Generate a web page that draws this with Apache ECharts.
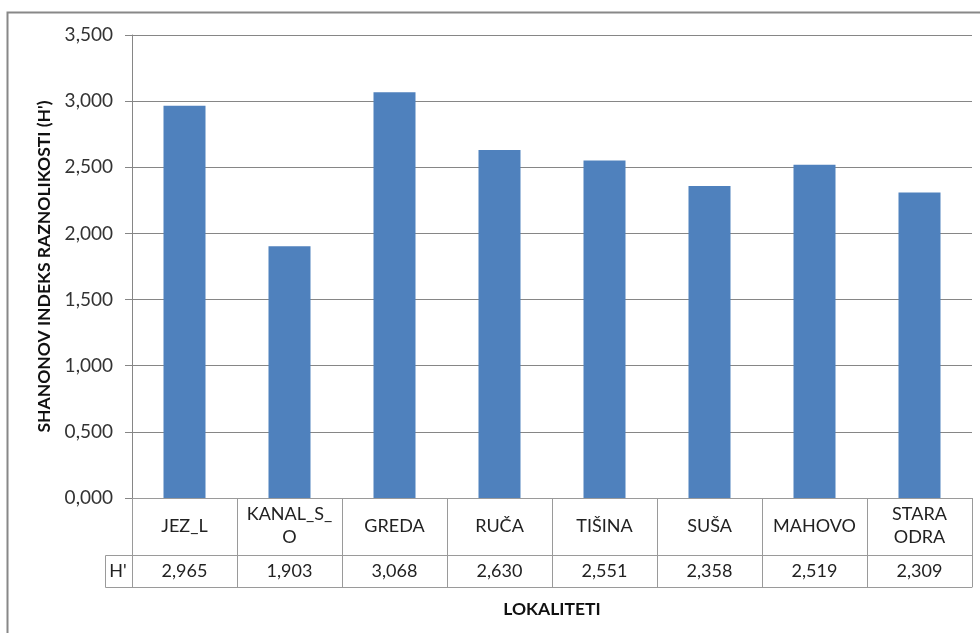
<!DOCTYPE html>
<html>
<head>
<meta charset="utf-8">
<script src="https://cdn.jsdelivr.net/npm/echarts@6/dist/echarts.min.js"></script>
<style>
  html, body { margin: 0; padding: 0; background: #fff; }
  #main { width: 980px; height: 633px; }
</style>
</head>
<body>
<div id="main"></div>
<script>
// lokaliteti i Shannonov indeks
const categories = ['JEZ_L', 'KANAL_S_\nO', 'GREDA', 'RUČA', 'TIŠINA', 'SUŠA', 'MAHOVO', 'STARA\nODRA']
const values = [2.965, 1.903, 3.068, 2.630, 2.551, 2.358, 2.519, 2.309]
const rowName = "H'"

const fmt = (v) => v.toFixed(3).replace('.', ',')
const tableRow = values.map(fmt)

const font = 'Lato, "Liberation Sans", sans-serif'
const lineColor = '#9a9a9a'

const myChart = echarts.init(document.getElementById('main'))

myChart.setOption({
  animation: false,
  textStyle: { fontFamily: font },
  grid: {
    left: 132,
    right: 8,
    top: 35,
    bottom: 135
  },
  yAxis: {
    type: 'value',
    min: 0,
    max: 3.5,
    interval: 0.5,
    name: "SHANONOV INDEKS RAZNOLIKOSTI (H')",
    nameLocation: 'middle',
    nameRotate: 90,
    nameGap: 78,
    nameTextStyle: { fontFamily: font, fontSize: 17.5, fontWeight: 'bold', color: '#111' },
    axisLine: { show: true, lineStyle: { color: '#868686' } },
    axisTick: { show: true, length: 7, lineStyle: { color: '#868686' } },
    axisLabel: { formatter: fmt, fontSize: 19, color: '#333', margin: 19 },
    splitLine: { lineStyle: { color: '#868686' } }
  },
  xAxis: [
    {
      type: 'category',
      data: categories,
      position: 'bottom',
      axisLine: { lineStyle: { color: lineColor } },
      axisTick: { show: true, length: 89, lineStyle: { color: lineColor } },
      axisLabel: { fontSize: 18, color: '#222', margin: 28, verticalAlign: 'middle', lineHeight: 23, interval: 0 }
    },
    {
      type: 'category',
      data: tableRow,
      position: 'bottom',
      offset: 57,
      axisLine: { lineStyle: { color: lineColor } },
      axisTick: { show: false },
      axisLabel: { fontSize: 18, color: '#222', margin: 16, verticalAlign: 'middle', interval: 0 }
    },
    {
      type: 'category',
      data: categories,
      position: 'bottom',
      offset: 89,
      axisLine: { lineStyle: { color: lineColor } },
      axisTick: { show: false },
      axisLabel: { show: false },
      name: 'LOKALITETI',
      nameLocation: 'middle',
      nameGap: 13,
      nameTextStyle: { fontFamily: font, fontSize: 17.5, fontWeight: 'bold', color: '#111' }
    }
  ],
  graphic: [
    // okvir grafikona
    {
      type: 'rect',
      shape: { x: 7.5, y: 12.5, width: 1000, height: 700 },
      style: { fill: 'none', stroke: '#888', lineWidth: 2 },
      silent: true
    },
    // celija H'
    {
      type: 'rect',
      shape: { x: 105.5, y: 555.5, width: 27, height: 32 },
      style: { fill: 'none', stroke: lineColor, lineWidth: 1 },
      silent: true
    },
    {
      type: 'text',
      x: 118,
      y: 571,
      style: { text: rowName, fontSize: 18, fontFamily: font, fill: '#222', align: 'center', verticalAlign: 'middle' },
      silent: true
    }
  ],
  series: [{
    name: rowName,
    type: 'bar',
    xAxisIndex: 0,
    barWidth: '40%',
    itemStyle: { color: '#4F81BD' },
    data: values
  }]
})
</script>
</body>
</html>
